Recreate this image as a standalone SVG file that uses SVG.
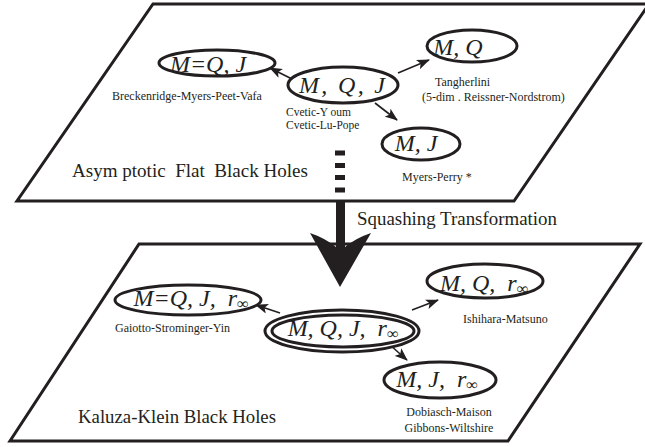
<svg xmlns="http://www.w3.org/2000/svg" width="645" height="447" viewBox="0 0 645 447">
<style>
.plane{fill:#fff;stroke:#231f20;stroke-width:3;stroke-linejoin:miter}
.node{fill:#fff;stroke:#231f20;stroke-width:3}
text{font-family:'Liberation Serif','Times New Roman','DejaVu Serif',serif;fill:#231f20;white-space:pre}
.nt{font-style:italic;font-size:24px;text-anchor:middle}
.sub{font-size:16px}
.lbl{font-size:12px}
.big{font-size:19px}
.edge{stroke:#231f20;stroke-width:1.6;fill:none;marker-end:url(#ah)}
</style>
<defs>
<marker id="ah" markerUnits="userSpaceOnUse" viewBox="0 0 13 10" refX="12" refY="5" markerWidth="13" markerHeight="10" orient="auto">
<path d="M0,0 L13,5 L0,10 L3,5 z" fill="#231f20"/>
</marker>
</defs>
<rect width="645" height="447" fill="#fff"/>
<g id="plane-top">
<polygon class="plane" points="153,4 649,4 514,201 17,201"/>
<text class="big" x="72" y="177" textLength="236" lengthAdjust="spacingAndGlyphs" xml:space="preserve">Asym ptotic  Flat  Black Holes</text>
</g>
<g id="plane-bottom">
<polygon class="plane" points="139,244 640,244 508,441 10,441"/>
<text class="big" x="78" y="423" textLength="198" lengthAdjust="spacingAndGlyphs">Kaluza-Klein Black Holes</text>
</g>
<g id="squash">
<rect x="335" y="150.5" width="10" height="5" fill="#231f20"/>
<rect x="335" y="163" width="10" height="5" fill="#231f20"/>
<rect x="335" y="175" width="10" height="5" fill="#231f20"/>
<rect x="335" y="187.5" width="10" height="5" fill="#231f20"/>
<path d="M336,201 L345,201 L345,247 Q356,238 371,233 L340,287 L310,233 Q325,238 336,247 Z" fill="#231f20"/>
<text class="big" x="357" y="225" textLength="200" lengthAdjust="spacingAndGlyphs">Squashing Transformation</text>
</g>
<g id="connectors">
<line class="edge" x1="292" y1="79" x2="270" y2="68"/>
<line class="edge" x1="398" y1="73" x2="429" y2="60"/>
<line class="edge" x1="375" y1="103" x2="397" y2="120"/>
<line class="edge" x1="280" y1="313" x2="256" y2="305"/>
<line class="edge" x1="412" y1="310" x2="438" y2="300"/>
<line class="edge" x1="390" y1="345" x2="407" y2="360"/>
</g>
<g id="n-MQJ">
<ellipse class="node" cx="343" cy="85" rx="55" ry="18"/>
<text class="nt" x="342" y="93" textLength="86" lengthAdjust="spacing">M, Q, J</text>
<text class="lbl" x="286" y="116" style="font-size:11.5px">Cvetic-Y oum</text>
<text class="lbl" x="286" y="129" style="font-size:11.5px">Cvetic-Lu-Pope</text>
</g>
<g id="n-MeqQJ">
<ellipse class="node" cx="217" cy="63" rx="58" ry="13"/>
<text class="nt" x="208" y="72">M=Q, J</text>
<text class="lbl" x="112" y="100">Breckenridge-Myers-Peet-Vafa</text>
</g>
<g id="n-MQ">
<ellipse class="node" cx="472" cy="46" rx="45" ry="16"/>
<text class="nt" x="458" y="55">M, Q</text>
<text class="lbl" x="435" y="86">Tangherlini</text>
<text class="lbl" x="422" y="101">(5-dim . Reissner-Nordstrom)</text>
</g>
<g id="n-MJ">
<ellipse class="node" cx="421" cy="144" rx="39" ry="16"/>
<text class="nt" x="416" y="151">M, J</text>
<text class="lbl" x="402" y="181">Myers-Perry *</text>
</g>
<g id="n-KK-MQJr">
<ellipse class="node" cx="342" cy="331" rx="77" ry="21"/>
<ellipse class="node" cx="343" cy="331" rx="71" ry="16"/>
<text class="nt" x="343" y="336" xml:space="preserve">M, Q, J,  r<tspan class="sub" dy="3">∞</tspan></text>
</g>
<g id="n-KK-MeqQJr">
<ellipse class="node" cx="188" cy="300" rx="73" ry="15"/>
<text class="nt" x="191" y="306" xml:space="preserve">M=Q, J,  r<tspan class="sub" dy="3">∞</tspan></text>
<text class="lbl" x="115" y="332">Gaiotto-Strominger-Yin</text>
</g>
<g id="n-KK-MQr">
<ellipse class="node" cx="485" cy="281" rx="58" ry="17"/>
<text class="nt" x="484" y="291" xml:space="preserve">M, Q,  r<tspan class="sub" dy="3">∞</tspan></text>
<text class="lbl" x="463" y="323">Ishihara-Matsuno</text>
</g>
<g id="n-KK-MJr">
<ellipse class="node" cx="440" cy="380" rx="56" ry="18"/>
<text class="nt" x="437" y="387" xml:space="preserve">M, J,  r<tspan class="sub" dy="3">∞</tspan></text>
<text class="lbl" x="449" y="416" text-anchor="middle">Dobiasch-Maison</text>
<text class="lbl" x="449" y="432" text-anchor="middle">Gibbons-Wiltshire</text>
</g>
</svg>
